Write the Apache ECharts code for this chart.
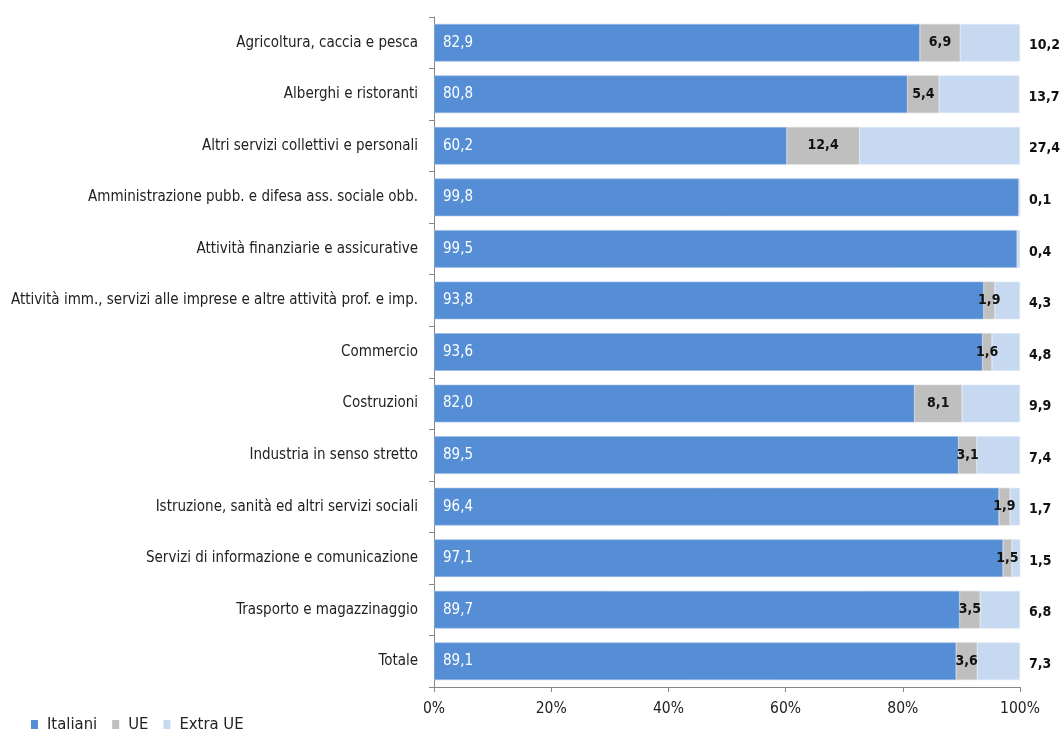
<!DOCTYPE html>
<html>
<head>
<meta charset="utf-8">
<script src="https://cdn.jsdelivr.net/npm/echarts@6/dist/echarts.min.js"></script>
<style>
  html, body { margin: 0; padding: 0; background: #fff; }
  #chart { width: 1061px; height: 734px; }
</style>
</head>
<body>
<div id="chart"></div>
<script>
// Occupati per settore di attività e cittadinanza (composizione %)
const categories = [
  'Agricoltura, caccia e pesca',
  'Alberghi e ristoranti',
  'Altri servizi collettivi e personali',
  'Amministrazione pubb. e difesa ass. sociale obb.',
  'Attività finanziarie e assicurative',
  'Attività imm., servizi alle imprese e altre attività prof. e imp.',
  'Commercio',
  'Costruzioni',
  'Industria in senso stretto',
  'Istruzione, sanità ed altri servizi sociali',
  'Servizi di informazione e comunicazione',
  'Trasporto e magazzinaggio',
  'Totale'
];
const italiani = [82.9, 80.8, 60.2, 99.8, 99.5, 93.8, 93.6, 82.0, 89.5, 96.4, 97.1, 89.7, 89.1];
const ue       = [6.9, 5.4, 12.4, 0.1, 0.1, 1.9, 1.6, 8.1, 3.1, 1.9, 1.5, 3.5, 3.6];
const extraUe  = [10.2, 13.7, 27.4, 0.1, 0.4, 4.3, 4.8, 9.9, 7.4, 1.7, 1.5, 6.8, 7.3];
const xTicks = [0, 20, 40, 60, 80, 100];

const FONT = "'Liberation Sans Narrow', 'DejaVu Sans Condensed', 'Liberation Sans', sans-serif";
const fmt = v => v.toFixed(1).replace('.', ',');

const chart = echarts.init(document.getElementById('chart'));
chart.setOption({
  animation: false,
  textStyle: { fontFamily: FONT },
  grid: { left: 434, right: 41, top: 17, bottom: 47, containLabel: false },
  legend: {
    left: 26, top: 711,
    itemWidth: 7, itemHeight: 9, itemGap: 15,
    icon: 'rect',
    itemStyle: { borderWidth: 0 },
    textStyle: { fontFamily: FONT, fontSize: 16.5, color: '#222', padding: [0, 0, 0, 4] },
    data: ['Italiani', 'UE', 'Extra UE']
  },
  xAxis: {
    type: 'value', min: 0, max: 100, interval: 20,
    axisLine: { show: true, lineStyle: { color: '#868686' } },
    axisTick: { show: true, length: 5, lineStyle: { color: '#868686' } },
    splitLine: { show: false },
    axisLabel: {
      fontFamily: FONT, fontSize: 15.5, color: '#222', margin: 14,
      formatter: v => xTicks.includes(v) ? v + '%' : ''
    }
  },
  yAxis: {
    type: 'category', inverse: true, data: categories,
    axisLine: { show: true, lineStyle: { color: '#868686' } },
    axisTick: { show: true, length: 5, inside: false, lineStyle: { color: '#868686' } },
    axisLabel: { fontFamily: FONT, fontSize: 15, color: '#222', margin: 16 }
  },
  series: [
    {
      name: 'Italiani', type: 'bar', stack: 'tot', data: italiani,
      barCategoryGap: '27%',
      itemStyle: { color: '#558ed5', borderColor: '#9dbbe6', borderWidth: 0.6 },
      label: {
        show: true, position: 'insideLeft', offset: [4, 0],
        color: '#fff', fontFamily: FONT, fontSize: 15,
        formatter: p => fmt(p.value)
      }
    },
    {
      name: 'UE', type: 'bar', stack: 'tot', data: ue,
      itemStyle: { color: '#bfbfbf', borderColor: '#d4d4d4', borderWidth: 0.6 },
      label: {
        show: true, position: 'inside',
        color: '#111', fontFamily: FONT, fontSize: 14, fontWeight: 'bold',
        formatter: p => p.value >= 0.5 ? fmt(p.value) : ''
      }
    },
    {
      name: 'Extra UE', type: 'bar', stack: 'tot', data: extraUe,
      itemStyle: { color: '#c6d9f1', borderColor: '#dbe7f6', borderWidth: 0.6 },
      label: {
        show: true, position: 'right', distance: 9, offset: [0, 3],
        color: '#111', fontFamily: FONT, fontSize: 14, fontWeight: 'bold',
        formatter: p => fmt(p.value)
      }
    }
  ]
});
</script>
</body>
</html>
